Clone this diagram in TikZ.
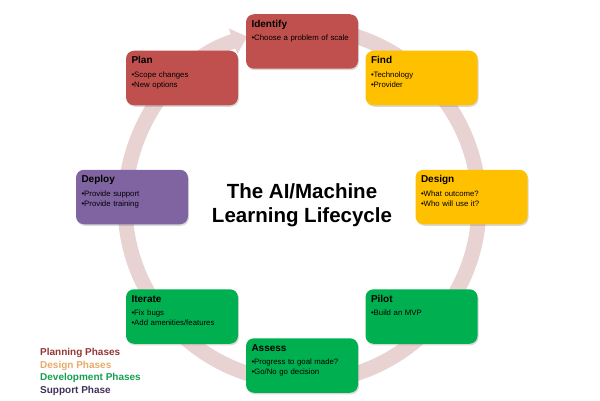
\documentclass[tikz,border=0pt]{standalone}
\usepackage{fontspec}
\setmainfont{Liberation Sans}
\usetikzlibrary{arrows.meta,shadows}
\definecolor{planred}{HTML}{C0504D}
\definecolor{designgold}{HTML}{FFC000}
\definecolor{devgreen}{HTML}{00B050}
\definecolor{supportpurple}{HTML}{8064A2}
\definecolor{ringpink}{RGB}{232,210,210}
\definecolor{legred}{RGB}{148,54,52}
\definecolor{legorange}{RGB}{230,170,105}
\definecolor{leggreen}{RGB}{20,160,80}
\definecolor{legpurple}{RGB}{64,49,90}
\begin{document}
\begin{tikzpicture}[x=1pt,y=1pt,
  phase/.style={rounded corners=8pt,text width=101pt,align=left,inner sep=5.5pt,
    text height=7.5pt,text depth=36pt,font=\fontsize{7.8}{10}\selectfont,
    drop shadow={opacity=0.3,shadow xshift=1pt,shadow yshift=-1.5pt}},
  legend/.style={anchor=west,inner sep=0pt,font=\fontsize{10}{11}\selectfont\bfseries}]
\useasboundingbox (0,0) rectangle (600,400);
% cycle ring
\coordinate (hub) at (302,195);
\draw[ringpink,line width=15pt,-{Triangle[width=26pt,length=15pt]}]
  (hub) ++(90:177) arc[start angle=90,end angle=-252,radius=177];
% title
\node[font=\fontsize{20.5}{24}\selectfont\bfseries,align=center] (title) at (hub) {The AI/Machine\\Learning Lifecycle};
% phase boxes
\foreach \nm/\px/\py/\col/\ttl/\items in {
  identify/302/358.5/planred/Identify/{•Choose a problem of scale},
  find/421.5/322/designgold/Find/{•Technology\\•Provider},
  design/471.5/203/designgold/Design/{•What outcome?\\•Who will use it?},
  pilot/421.5/83.5/devgreen/Pilot/{•Build an MVP},
  assess/302/34.5/devgreen/Assess/{•Progress to goal made?\\•Go/No go decision},
  iterate/182/83.5/devgreen/Iterate/{•Fix bugs\\•Add amenities/features},
  deploy/132/203/supportpurple/Deploy/{•Provide support\\•Provide training},
  plan/182/322/planred/Plan/{•Scope changes\\•New options}} {
  \node[phase,fill=\col] (\nm) at (\px,\py) {{\fontsize{10}{10}\selectfont\bfseries \ttl}\\[3.4pt]\items};
}
% legend
\foreach \idx/\col/\txt in {0/legred/Planning Phases,1/legorange/Design Phases,2/leggreen/Development Phases,3/legpurple/Support Phase} {
  \node[legend,text=\col] (leg\idx) at (40,47-\idx*12.5) {\txt};
}
\end{tikzpicture}
\end{document}
